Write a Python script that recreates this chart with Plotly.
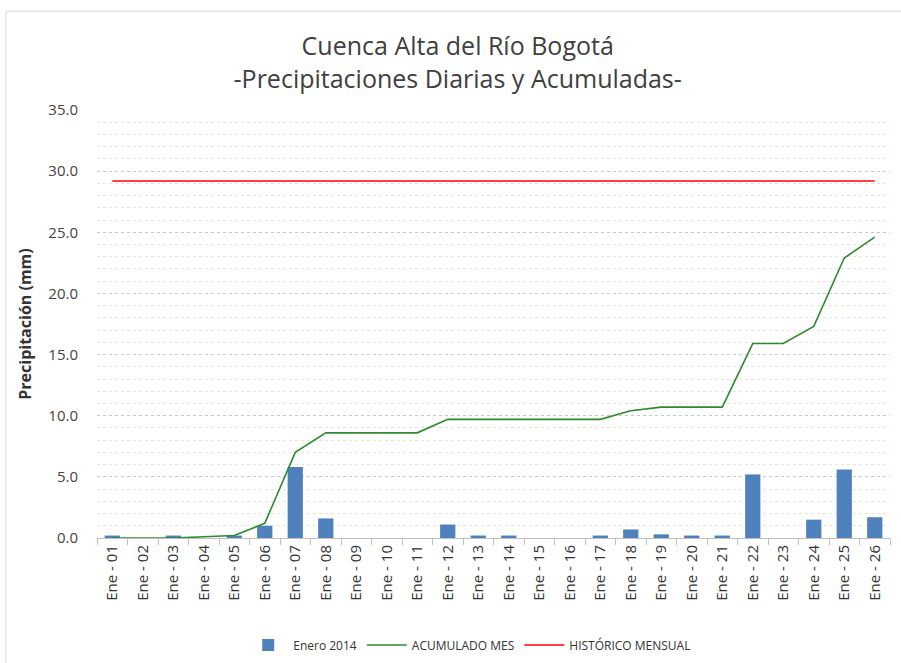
import plotly.graph_objects as go

dias = ["Ene - 01","Ene - 02","Ene - 03","Ene - 04","Ene - 05","Ene - 06","Ene - 07","Ene - 08","Ene - 09",
        "Ene - 10","Ene - 11","Ene - 12","Ene - 13","Ene - 14","Ene - 15","Ene - 16","Ene - 17","Ene - 18",
        "Ene - 19","Ene - 20","Ene - 21","Ene - 22","Ene - 23","Ene - 24","Ene - 25","Ene - 26"]
enero_2014 = [0.2, 0.0, 0.2, 0.0, 0.2, 1.0, 5.8, 1.6, 0.0, 0.0, 0.0, 1.1, 0.2, 0.2, 0.0, 0.0, 0.2, 0.7,
              0.3, 0.2, 0.2, 5.2, 0.0, 1.5, 5.6, 1.7]
acumulado_mes = [0.0, 0.0, 0.0, 0.1, 0.2, 1.2, 7.0, 8.6, 8.6, 8.6, 8.6, 9.7, 9.7, 9.7, 9.7, 9.7, 9.7, 10.4,
                 10.7, 10.7, 10.7, 15.9, 15.9, 17.3, 22.9, 24.6]
historico_mensual = [29.2] * len(dias)
y_ticks = [0, 5, 10, 15, 20, 25, 30, 35]

font_family = "Open Sans, Lato, sans-serif"

fig = go.Figure()
fig.add_trace(go.Bar(x=dias, y=enero_2014, name="Enero 2014",
                     marker=dict(color="#4f81bd", line=dict(width=0))))
fig.add_trace(go.Scatter(x=dias, y=acumulado_mes, name="ACUMULADO MES", mode="lines",
                         line=dict(color="#2f8a2f", width=1.6)))
fig.add_trace(go.Scatter(x=dias, y=historico_mensual, name="HISTÓRICO MENSUAL", mode="lines",
                         line=dict(color="#ff0000", width=1.6)))

fig.update_layout(
    width=901, height=663,
    paper_bgcolor="white", plot_bgcolor="white",
    margin=dict(l=97, r=11, t=110, b=125, autoexpand=False),
    title=dict(text="Cuenca Alta del Río Bogotá<br>-Precipitaciones Diarias y Acumuladas-",
               x=0.508, xanchor="center", y=0.917, yanchor="top",
               font=dict(family=font_family, size=25, color="#404040")),
    font=dict(family=font_family, color="#444444"),
    bargap=0.5,
    showlegend=True,
    legend=dict(orientation="h", x=0.47, xanchor="center", y=-0.25, yanchor="middle",
                font=dict(size=12, color="#333333"), itemwidth=40),
    xaxis=dict(type="category", tickson="boundaries", ticks="outside", ticklen=6,
               tickcolor="#bfbfbf", showline=True, linecolor="#bfbfbf", showgrid=False,
               automargin=False,
               tickangle=-90, tickfont=dict(size=15, color="#333333"), range=[-0.5, 25.5]),
    yaxis=dict(range=[0, 35], tickvals=y_ticks, ticktext=[f"{v:.1f}" for v in y_ticks],
               tickfont=dict(size=15, color="#444444"), ticks="", showline=False,
               ticklabelstandoff=18, automargin=False,
               gridcolor="#c8c8c8", griddash="dot", gridwidth=1, zeroline=False,
               minor=dict(dtick=1, showgrid=True, gridcolor="#e8e4d6", gridwidth=1),
               title=dict(text="<b>Precipitación (mm)</b>", font=dict(size=16, color="#333333"),
                          standoff=12)),
    shapes=[dict(type="rect", xref="paper", yref="paper", x0=-0.1148, x1=1.05, y0=-0.4, y1=1.231,
                 line=dict(color="#d9d9d9", width=1))]
)

fig.write_html("out.html", config={"displayModeBar": False},
               post_script="document.body.style.margin='0';")
